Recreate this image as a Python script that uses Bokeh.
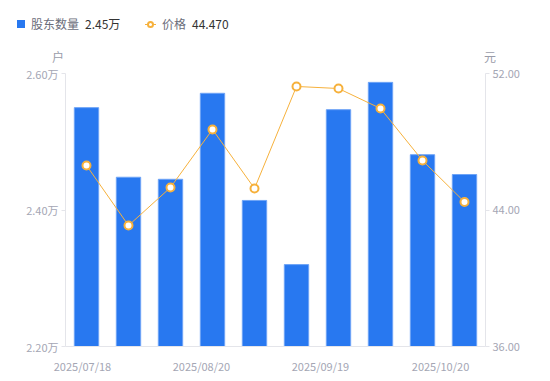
from bokeh.plotting import figure
from bokeh.layouts import column
from bokeh.models import (Range1d, LinearAxis, FixedTicker, ColumnDataSource,
                          PrintfTickFormatter, Div)
from bokeh.embed import file_html
from bokeh.resources import INLINE

# ---- data ----
dates = ["2025/07/18", "2025/07/31", "2025/08/10", "2025/08/20", "2025/08/31",
         "2025/09/10", "2025/09/19", "2025/09/30", "2025/10/10", "2025/10/20"]
holders = [2.550, 2.448, 2.445, 2.571, 2.414, 2.320, 2.547, 2.587, 2.481, 2.452]
prices = [46.61, 43.09, 45.32, 48.72, 45.26, 51.24, 51.12, 49.95, 46.90, 44.47]
x_tick_labels = ["2025/07/18", "2025/08/20", "2025/09/19", "2025/10/20"]
x_tick_pos = [-0.095, 2.738, 5.571, 8.429]
left_ticks = [2.20, 2.40, 2.60]
right_ticks = [36.0, 44.0, 52.0]
series_names = ["股东数量", "价格"]
series_last = ["2.45万", "44.470"]
axis_units = ["户", "元"]

FONT = "Noto Sans CJK SC"
AXIS_C = "#e4e5ea"
TICK_C = "#a4a6b4"
BLUE = "#2878f0"
ORANGE = "#f6b13c"
W = 542
HEAD_H = 64

# ---- header (legend + axis units) ----
def span(left, top, content="", style=""):
    return (f'<span style="position:absolute;left:{left}px;top:{top}px;'
            f'box-sizing:content-box;white-space:nowrap;{style}">{content}</span>')

txt_style = "line-height:16px;font-size:12px;"
header_html = (
    f'<div style="position:relative;width:{W}px;height:{HEAD_H}px;'
    f"font-family:'{FONT}',sans-serif;\">"
    + span(17, 20, "", f"width:8px;height:8px;background:{BLUE};")
    + span(31, 16, series_names[0], txt_style + "color:#6b6d7a;")
    + span(85, 16, series_last[0], txt_style + "color:#333333;")
    + span(145, 23.5, "", f"width:11px;height:1px;background:{ORANGE};")
    + span(147, 20.5, "", f"width:3px;height:3px;border:2px solid {ORANGE};"
           "border-radius:50%;background:white;")
    + span(162, 16, series_names[1], txt_style + "color:#6b6d7a;")
    + span(192, 16, series_last[1], txt_style + "color:#333333;")
    + span(52, 49, axis_units[0], txt_style + "color:#9a9ca9;")
    + span(484, 49, axis_units[1], txt_style + "color:#9a9ca9;")
    + "</div>"
)
head = Div(text=header_html, width=W, height=HEAD_H, margin=(0, 0, 0, 0))

# ---- main chart ----
idx = list(range(len(dates)))
src = ColumnDataSource(dict(x=idx, date=dates, holders=holders, prices=prices))

p = figure(frame_width=420, frame_height=273,
           min_border_left=65, min_border_right=57,
           min_border_top=73 - HEAD_H, min_border_bottom=27,
           x_range=Range1d(-0.5, len(dates) - 0.5),
           y_range=Range1d(left_ticks[0], left_ticks[-1]),
           toolbar_location=None, output_backend="svg")
p.outline_line_color = None
p.xgrid.visible = False
p.ygrid.visible = False
p.extra_y_ranges = {"price": Range1d(right_ticks[0], right_ticks[-1])}

xa = p.xaxis[0]
xa.ticker = FixedTicker(ticks=x_tick_pos)
xa.major_label_overrides = {t: l for t, l in zip(x_tick_pos, x_tick_labels)}
xa.axis_line_color = AXIS_C
xa.major_tick_line_color = None
xa.minor_tick_line_color = None
xa.major_label_text_color = TICK_C
xa.major_label_text_font = FONT
xa.major_label_text_font_size = "11px"
xa.major_label_standoff = 5

ya = p.yaxis[0]
ya.ticker = FixedTicker(ticks=left_ticks)
ya.formatter = PrintfTickFormatter(format="%.2f万")

ra = LinearAxis(y_range_name="price", ticker=FixedTicker(ticks=right_ticks),
                formatter=PrintfTickFormatter(format="%.2f"))
p.add_layout(ra, "right")
for ax in [ya, ra]:
    ax.axis_line_color = AXIS_C
    ax.major_tick_line_color = AXIS_C
    ax.major_tick_in = 0
    ax.major_tick_out = 4
    ax.minor_tick_line_color = None
    ax.major_label_text_color = TICK_C
    ax.major_label_text_font = FONT
    ax.major_label_text_font_size = "11px"
    ax.major_label_standoff = 3

p.vbar(x="x", top="holders", bottom=0, width=0.58, source=src,
       fill_color=BLUE, line_color="#6ea4f6", line_width=1)
p.line(x="x", y="prices", source=src, y_range_name="price",
       line_color=ORANGE, line_width=1)
p.scatter(x="x", y="prices", source=src, y_range_name="price", size=8,
          marker="circle", fill_color="white", line_color=ORANGE, line_width=2)

layout = column(head, p, spacing=0)
open("out.html", "w").write(file_html(layout, INLINE))
